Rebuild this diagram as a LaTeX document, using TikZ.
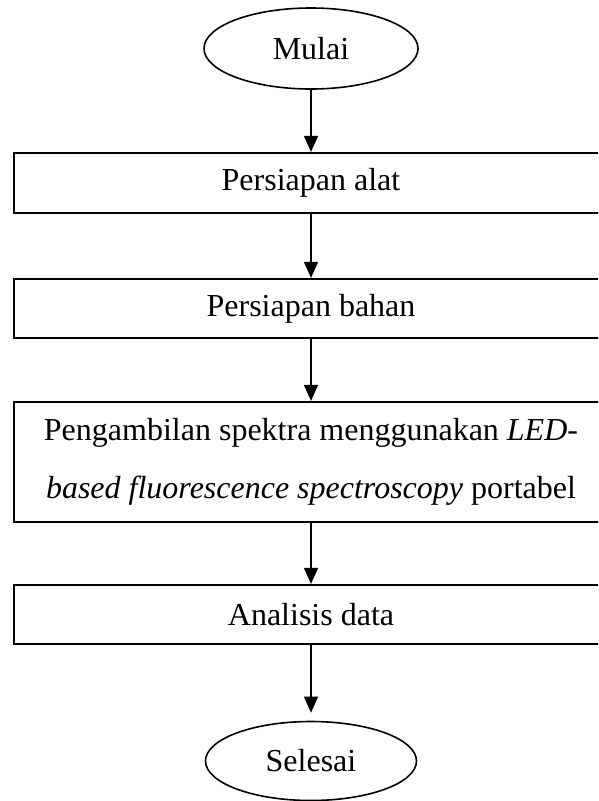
\documentclass[tikz,border=0pt]{standalone}
\usepackage{fontspec}
\setmainfont{Liberation Serif}
\usetikzlibrary{math, shapes.geometric, arrows.meta}

\tikzset{
  terminal/.style={draw, ellipse, line width=1.6pt, minimum width=214pt, minimum height=81pt, inner sep=0pt},
  process/.style={draw, rectangle, line width=2.2pt, minimum width=594pt, inner sep=0pt},
  flow/.style={line width=1.6pt, -{Triangle[length=16pt,width=14pt]}}
}

\begin{document}
\begin{tikzpicture}[x=1pt, y=1pt, font=\fontsize{32}{58}\selectfont]

\tikzmath{
\cx = 311;
}

\useasboundingbox (0,0) rectangle (598,-801);
\clip (0,0) rectangle (598,-801);

\node[terminal] (mulai) at (\cx,-48.5) {Mulai};
\node[process, minimum height=60pt] (alat) at (\cx,-183) {Persiapan alat};
\node[process, minimum height=59pt] (bahan) at (\cx,-308.5) {Persiapan bahan};
\node[process, minimum height=120pt, align=center] (spektra) at (\cx,-462)
  {Pengambilan spektra menggunakan \textit{LED-}\\
   \textit{based fluorescence spectroscopy} portabel};
\node[process, minimum height=59pt] (analisis) at (\cx,-614.5) {Analisis data};
\node[terminal, minimum width=211pt, minimum height=79pt] (selesai) at (\cx,-761) {Selesai};

\draw[flow] (mulai) -- (alat);
\draw[flow] (alat) -- (bahan);
\draw[flow] (bahan) -- (spektra);
\draw[flow] (spektra) -- (analisis);
\draw[flow, shorten >=8pt] (analisis) -- (selesai);

\end{tikzpicture}
\end{document}
